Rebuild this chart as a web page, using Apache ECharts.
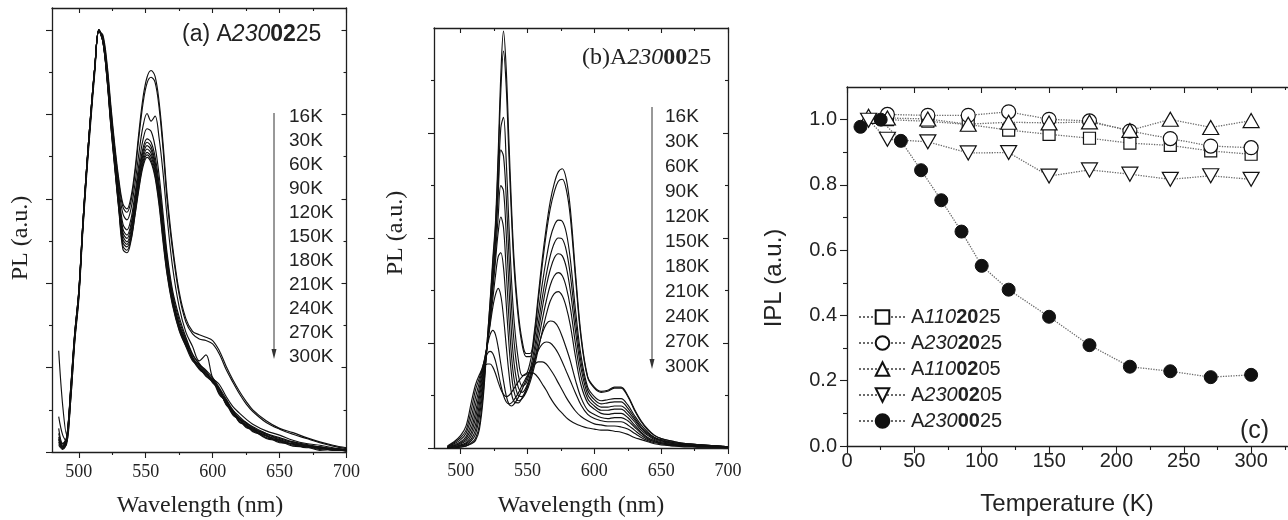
<!DOCTYPE html>
<html>
<head>
<meta charset="utf-8">
<title>PL spectra and integrated PL</title>
<script src="https://cdn.jsdelivr.net/npm/echarts@6/dist/echarts.min.js"></script>
<style>
  html, body { margin: 0; padding: 0; background: #fff; }
  #main { width: 1288px; height: 520px; }
</style>
</head>
<body>
<div id="main"></div>
<script>
// temperatures, top to bottom in panels (a) and (b)
var temps = ['16K', '30K', '60K', '90K', '120K', '150K', '180K', '210K', '240K', '270K', '300K'];

// ---- panel (a) A2300225, PL (a.u.), first peak ~5
var wlA = [485, 488, 491, 494, 497, 500, 503, 506, 509, 512, 515, 518, 521, 524, 527, 530, 533, 536, 539, 542, 545, 548, 551, 554, 557, 560, 563, 566, 570, 575, 580, 585, 590, 595, 600, 605, 610, 615, 620, 625, 630, 640, 650, 660, 670, 680, 690, 700];
var a16 = [0.12, 0.04, 0.1, 0.62, 1.3, 1.8, 2.6, 3.3, 3.92, 4.5, 4.98, 4.94, 4.62, 4.1, 3.62, 3.22, 2.94, 2.88, 3.02, 3.35, 3.8, 4.2, 4.44, 4.52, 4.45, 4.15, 3.65, 3.05, 2.45, 1.9, 1.58, 1.43, 1.39, 1.36, 1.32, 1.2, 1.02, 0.86, 0.72, 0.6, 0.5, 0.37, 0.28, 0.23, 0.17, 0.12, 0.08, 0.05];
var a30 = [0.08, 0.03, 0.12, 0.66, 1.34, 1.84, 2.64, 3.34, 3.96, 4.53, 4.99, 4.92, 4.58, 4.06, 3.58, 3.18, 2.9, 2.84, 2.97, 3.3, 3.74, 4.13, 4.37, 4.44, 4.38, 4.08, 3.58, 2.98, 2.4, 1.86, 1.54, 1.4, 1.34, 1.32, 1.28, 1.16, 0.98, 0.83, 0.69, 0.57, 0.48, 0.35, 0.27, 0.21, 0.16, 0.11, 0.07, 0.04];
var a60 = [0.1, 0.05, 0.14, 0.7, 1.36, 1.86, 2.66, 3.36, 3.98, 4.55, 4.99, 4.9, 4.55, 4.02, 3.55, 3.12, 2.82, 2.75, 2.88, 3.18, 3.55, 3.86, 4.01, 3.92, 3.98, 3.72, 3.3, 2.78, 2.2, 1.72, 1.42, 1.25, 1.08, 1.15, 0.88, 0.8, 0.66, 0.54, 0.46, 0.39, 0.33, 0.25, 0.2, 0.14, 0.1, 0.08, 0.05, 0.03];
var a90 = [0.14, 0.06, 0.15, 0.72, 1.38, 1.88, 2.68, 3.38, 4.0, 4.56, 5.0, 4.89, 4.52, 3.98, 3.5, 3.05, 2.7, 2.63, 2.76, 3.06, 3.42, 3.7, 3.83, 3.8, 3.62, 3.28, 2.82, 2.35, 1.92, 1.6, 1.36, 1.16, 1.04, 0.97, 0.88, 0.76, 0.63, 0.5, 0.42, 0.35, 0.3, 0.22, 0.17, 0.12, 0.09, 0.06, 0.04, 0.03];
var a120 = [0.16, 0.06, 0.16, 0.73, 1.38, 1.88, 2.68, 3.38, 4.0, 4.56, 5.0, 4.88, 4.5, 3.96, 3.47, 3.0, 2.64, 2.57, 2.7, 3.0, 3.34, 3.6, 3.71, 3.67, 3.5, 3.18, 2.74, 2.3, 1.88, 1.56, 1.34, 1.15, 1.05, 0.94, 0.86, 0.74, 0.61, 0.48, 0.4, 0.34, 0.29, 0.21, 0.16, 0.11, 0.08, 0.06, 0.04, 0.02];
var a150 = [0.18, 0.07, 0.16, 0.74, 1.4, 1.9, 2.7, 3.4, 4.02, 4.57, 5.0, 4.88, 4.48, 3.94, 3.45, 2.97, 2.6, 2.53, 2.66, 2.96, 3.3, 3.56, 3.67, 3.62, 3.44, 3.12, 2.68, 2.25, 1.85, 1.52, 1.32, 1.12, 1.03, 0.96, 0.84, 0.75, 0.58, 0.5, 0.38, 0.35, 0.27, 0.22, 0.14, 0.12, 0.07, 0.06, 0.03, 0.03];
var a180 = [0.22, 0.08, 0.17, 0.75, 1.4, 1.9, 2.7, 3.4, 4.02, 4.57, 5.0, 4.87, 4.47, 3.92, 3.42, 2.94, 2.56, 2.49, 2.62, 2.92, 3.26, 3.52, 3.63, 3.58, 3.4, 3.08, 2.64, 2.22, 1.82, 1.5, 1.3, 1.1, 0.98, 0.92, 0.86, 0.7, 0.62, 0.46, 0.4, 0.31, 0.28, 0.19, 0.15, 0.09, 0.08, 0.04, 0.04, 0.02];
var a210 = [0.28, 0.1, 0.18, 0.76, 1.41, 1.9, 2.7, 3.4, 4.02, 4.57, 5.0, 4.87, 4.46, 3.9, 3.4, 2.91, 2.52, 2.46, 2.58, 2.88, 3.22, 3.48, 3.59, 3.54, 3.36, 3.03, 2.6, 2.18, 1.8, 1.49, 1.28, 1.12, 1.0, 0.9, 0.83, 0.73, 0.57, 0.49, 0.36, 0.33, 0.25, 0.2, 0.12, 0.1, 0.06, 0.05, 0.02, 0.03];
var a240 = [0.15, 0.1, 0.18, 0.77, 1.42, 1.9, 2.7, 3.4, 4.02, 4.57, 5.0, 4.86, 4.45, 3.88, 3.38, 2.89, 2.48, 2.43, 2.55, 2.85, 3.18, 3.44, 3.55, 3.5, 3.32, 3.0, 2.56, 2.15, 1.78, 1.47, 1.28, 1.1, 1.03, 0.92, 0.85, 0.68, 0.6, 0.45, 0.39, 0.3, 0.27, 0.17, 0.14, 0.08, 0.07, 0.03, 0.04, 0.01];
var a270 = [0.42, 0.2, 0.12, 0.68, 1.36, 1.86, 2.66, 3.38, 4.0, 4.56, 4.99, 4.86, 4.44, 3.86, 3.36, 2.87, 2.44, 2.39, 2.52, 2.82, 3.15, 3.41, 3.52, 3.46, 3.28, 2.96, 2.52, 2.12, 1.76, 1.45, 1.26, 1.12, 0.99, 0.94, 0.82, 0.74, 0.56, 0.48, 0.35, 0.32, 0.24, 0.19, 0.11, 0.1, 0.05, 0.05, 0.02, 0.02];
var a300 = [1.2, 0.55, 0.2, 0.62, 1.32, 1.84, 2.64, 3.36, 3.98, 4.55, 4.99, 4.86, 4.43, 3.85, 3.34, 2.85, 2.4, 2.36, 2.5, 2.8, 3.12, 3.38, 3.49, 3.43, 3.25, 2.92, 2.48, 2.1, 1.74, 1.44, 1.25, 1.08, 1.01, 0.9, 0.86, 0.7, 0.58, 0.44, 0.38, 0.29, 0.26, 0.16, 0.13, 0.07, 0.06, 0.02, 0.03, 0.01];
var spectraA = [a16, a30, a60, a90, a120, a150, a180, a210, a240, a270, a300];

// ---- panel (b) A2300025, PL (a.u.)
var wlB = [490, 495, 500, 504, 508, 511, 514, 517, 520, 522, 524, 526, 528, 530, 532, 534, 536, 538, 540, 543, 546, 549, 552, 555, 558, 561, 564, 567, 570, 573, 576, 579, 582, 586, 590, 595, 600, 605, 610, 615, 620, 625, 630, 635, 640, 645, 650, 660, 670, 680, 690, 700];
var b16 = [0, 0, 0.01, 0.02, 0.04, 0.07, 0.18, 0.5, 1.05, 1.4, 1.8, 2.15, 2.8, 3.55, 3.97, 3.62, 2.95, 2.3, 1.78, 1.3, 1.02, 0.9, 0.9, 1.1, 1.45, 1.8, 2.1, 2.35, 2.52, 2.63, 2.66, 2.56, 2.28, 1.65, 1.08, 0.68, 0.58, 0.54, 0.55, 0.58, 0.58, 0.5, 0.37, 0.26, 0.18, 0.12, 0.09, 0.06, 0.04, 0.03, 0.02, 0.01];
var b30 = [0, 0, 0.01, 0.02, 0.05, 0.09, 0.22, 0.55, 1.05, 1.38, 1.75, 2.1, 2.7, 3.4, 3.78, 3.45, 2.8, 2.2, 1.7, 1.25, 0.98, 0.87, 0.87, 1.06, 1.4, 1.74, 2.04, 2.28, 2.44, 2.54, 2.56, 2.46, 2.2, 1.6, 1.05, 0.67, 0.57, 0.53, 0.54, 0.57, 0.57, 0.49, 0.36, 0.25, 0.17, 0.12, 0.09, 0.06, 0.04, 0.03, 0.02, 0.01];
var b60 = [0, 0.01, 0.02, 0.03, 0.07, 0.13, 0.3, 0.6, 1.0, 1.3, 1.65, 2.0, 2.5, 3.05, 3.15, 2.75, 2.15, 1.6, 1.2, 0.85, 0.69, 0.7, 0.82, 1.02, 1.28, 1.56, 1.8, 2.0, 2.12, 2.17, 2.16, 2.05, 1.8, 1.3, 0.88, 0.58, 0.49, 0.45, 0.46, 0.47, 0.47, 0.41, 0.31, 0.22, 0.15, 0.1, 0.08, 0.05, 0.04, 0.03, 0.02, 0.01];
var b90 = [0, 0.01, 0.02, 0.04, 0.09, 0.17, 0.36, 0.64, 1.0, 1.28, 1.6, 1.95, 2.4, 2.84, 2.78, 2.4, 1.85, 1.35, 1.0, 0.7, 0.59, 0.62, 0.75, 0.94, 1.18, 1.43, 1.65, 1.83, 1.95, 2.0, 1.99, 1.88, 1.65, 1.2, 0.82, 0.55, 0.46, 0.42, 0.43, 0.44, 0.44, 0.38, 0.29, 0.2, 0.14, 0.1, 0.07, 0.05, 0.03, 0.02, 0.02, 0.01];
var b120 = [0, 0.01, 0.03, 0.05, 0.12, 0.22, 0.42, 0.68, 1.0, 1.25, 1.55, 1.85, 2.2, 2.5, 2.45, 2.05, 1.55, 1.1, 0.8, 0.58, 0.53, 0.58, 0.7, 0.88, 1.1, 1.33, 1.54, 1.7, 1.81, 1.85, 1.83, 1.72, 1.5, 1.1, 0.76, 0.51, 0.43, 0.39, 0.39, 0.4, 0.4, 0.35, 0.27, 0.19, 0.13, 0.09, 0.07, 0.04, 0.03, 0.02, 0.02, 0.01];
var b150 = [0, 0.02, 0.04, 0.07, 0.15, 0.28, 0.48, 0.72, 1.0, 1.22, 1.5, 1.78, 2.05, 2.2, 2.1, 1.7, 1.25, 0.88, 0.65, 0.5, 0.49, 0.55, 0.66, 0.82, 1.02, 1.22, 1.4, 1.55, 1.64, 1.67, 1.64, 1.53, 1.34, 0.98, 0.68, 0.47, 0.4, 0.36, 0.36, 0.37, 0.37, 0.32, 0.25, 0.17, 0.12, 0.08, 0.06, 0.04, 0.03, 0.02, 0.01, 0.01];
var b180 = [0, 0.02, 0.05, 0.09, 0.19, 0.34, 0.53, 0.75, 1.0, 1.2, 1.42, 1.64, 1.82, 1.86, 1.72, 1.38, 1.0, 0.7, 0.53, 0.45, 0.47, 0.53, 0.63, 0.77, 0.94, 1.11, 1.27, 1.4, 1.47, 1.49, 1.45, 1.34, 1.17, 0.86, 0.6, 0.43, 0.37, 0.33, 0.32, 0.33, 0.33, 0.29, 0.22, 0.15, 0.1, 0.07, 0.05, 0.03, 0.02, 0.02, 0.01, 0.01];
var b210 = [0.01, 0.03, 0.06, 0.11, 0.24, 0.41, 0.58, 0.78, 1.0, 1.17, 1.34, 1.46, 1.52, 1.45, 1.25, 0.98, 0.72, 0.52, 0.44, 0.43, 0.48, 0.56, 0.67, 0.81, 0.96, 1.09, 1.18, 1.21, 1.2, 1.15, 1.06, 0.95, 0.83, 0.64, 0.48, 0.36, 0.32, 0.29, 0.28, 0.29, 0.29, 0.26, 0.2, 0.14, 0.09, 0.06, 0.05, 0.03, 0.02, 0.01, 0.01, 0.01];
var b240 = [0.01, 0.04, 0.08, 0.14, 0.3, 0.48, 0.63, 0.8, 0.98, 1.08, 1.12, 1.08, 0.96, 0.8, 0.64, 0.5, 0.42, 0.4, 0.42, 0.48, 0.56, 0.65, 0.74, 0.84, 0.93, 0.99, 1.01, 1.0, 0.96, 0.9, 0.82, 0.73, 0.64, 0.52, 0.41, 0.32, 0.28, 0.26, 0.25, 0.25, 0.25, 0.22, 0.17, 0.12, 0.08, 0.06, 0.04, 0.03, 0.02, 0.01, 0.01, 0.01];
var b270 = [0.01, 0.05, 0.1, 0.17, 0.37, 0.55, 0.67, 0.8, 0.9, 0.92, 0.9, 0.83, 0.72, 0.6, 0.5, 0.44, 0.42, 0.43, 0.46, 0.52, 0.6, 0.67, 0.74, 0.79, 0.82, 0.82, 0.8, 0.75, 0.69, 0.62, 0.55, 0.48, 0.42, 0.35, 0.3, 0.26, 0.23, 0.22, 0.21, 0.21, 0.2, 0.18, 0.14, 0.1, 0.07, 0.05, 0.04, 0.02, 0.02, 0.01, 0.01, 0.01];
var b300 = [0.02, 0.06, 0.12, 0.21, 0.44, 0.6, 0.7, 0.77, 0.8, 0.8, 0.77, 0.71, 0.63, 0.56, 0.51, 0.49, 0.5, 0.53, 0.57, 0.63, 0.68, 0.71, 0.72, 0.71, 0.67, 0.61, 0.55, 0.48, 0.42, 0.37, 0.33, 0.29, 0.26, 0.23, 0.21, 0.19, 0.18, 0.17, 0.17, 0.16, 0.15, 0.13, 0.1, 0.08, 0.06, 0.04, 0.03, 0.02, 0.01, 0.01, 0.01, 0];
var spectraB = [b16, b30, b60, b90, b120, b150, b180, b210, b240, b270, b300];

// ---- panel (c) integrated PL vs temperature
var tHollow = [30, 60, 90, 120, 150, 180, 210, 240, 270, 300];
var tTri = [16, 30, 60, 90, 120, 150, 180, 210, 240, 270, 300];
var tFilled = [10, 25, 40, 55, 70, 85, 100, 120, 150, 180, 210, 240, 270, 300];
var ipl1102025 = [1.0, 0.995, 0.985, 0.968, 0.955, 0.943, 0.928, 0.921, 0.904, 0.894];
var ipl2302025 = [1.016, 1.013, 1.013, 1.024, 1.001, 0.996, 0.965, 0.942, 0.919, 0.914];
var ipl1100205 = [1.01, 1.005, 1.002, 0.986, 0.992, 0.99, 0.993, 0.967, 1.001, 0.976, 0.997];
var ipl2300205 = [0.998, 0.94, 0.932, 0.898, 0.899, 0.827, 0.846, 0.833, 0.817, 0.828, 0.817];
var ipl2300025 = [0.978, 1.0, 0.935, 0.845, 0.753, 0.657, 0.552, 0.479, 0.396, 0.309, 0.243, 0.229, 0.211, 0.218];
// sample names split as plain / italic / bold / plain
var sampleParts = [['A', '110', '20', '25'], ['A', '230', '20', '25'], ['A', '110', '02', '05'], ['A', '230', '02', '05'], ['A', '230', '00', '25']];

var SERIF = '"Liberation Serif", "DejaVu Serif", serif';
var SANS = '"Liberation Sans", Arial, sans-serif';
var INK = '#1e1e1e';

var chart = echarts.init(document.getElementById('main'), null, { renderer: 'canvas' });

var xAxes = [], yAxes = [];
function axis(grid, pos, min, max, vals, len, inside, showLine, label) {
    var ax = {
        type: 'value', gridIndex: grid, position: pos, min: min, max: max,
        axisLine: { show: showLine, onZero: false, lineStyle: { color: INK, width: 1.3 } },
        axisTick: { show: true, inside: inside, length: len, customValues: vals, lineStyle: { color: INK, width: 1.1 } },
        axisLabel: { show: false },
        splitLine: { show: false },
        axisPointer: { show: false }
    };
    if (label) {
        ax.axisLabel = Object.assign({ show: true, customValues: vals }, label);
    }
    return ax;
}
function addX(a) { xAxes.push(a); return xAxes.length - 1; }
function addY(a) { yAxes.push(a); return yAxes.length - 1; }

var wlMajor = [500, 550, 600, 650, 700];
var wlMinor = [525, 575, 625, 675];
var serifLabel = { fontFamily: SERIF, fontSize: 18, color: '#222' };

// panel (a) axes
var xa = addX(axis(0, 'bottom', 480, 700, wlMajor, 6, false, true, Object.assign({ margin: 11 }, serifLabel)));
addX(axis(0, 'bottom', 480, 700, wlMinor, 3, false, false));
addX(axis(0, 'top', 480, 700, wlMajor, 5, true, true));
addX(axis(0, 'top', 480, 700, wlMinor, 3, true, false));
var ya = addY(axis(0, 'left', 0, 5.26, [0, 1, 2, 3, 4, 5], 6, false, true));
addY(axis(0, 'left', 0, 5.26, [0.5, 1.5, 2.5, 3.5, 4.5], 3, false, false));
addY(axis(0, 'right', 0, 5.26, [0, 1, 2, 3, 4, 5], 5, true, true));
addY(axis(0, 'right', 0, 5.26, [0.5, 1.5, 2.5, 3.5, 4.5], 3, true, false));

// panel (b) axes
var xb = addX(axis(1, 'bottom', 480, 700, wlMajor, 6, false, true, Object.assign({ margin: 14 }, serifLabel)));
addX(axis(1, 'bottom', 480, 700, wlMinor, 3, false, false));
addX(axis(1, 'top', 480, 700, wlMajor, 5, true, true));
addX(axis(1, 'top', 480, 700, wlMinor, 3, true, false));
var yb = addY(axis(1, 'left', 0, 4, [0, 1, 2, 3], 6, false, true));
addY(axis(1, 'left', 0, 4, [0.5, 1.5, 2.5, 3.5], 3, false, false));
addY(axis(1, 'right', 0, 4, [0, 1, 2, 3], 5, true, true));
addY(axis(1, 'right', 0, 4, [0.5, 1.5, 2.5, 3.5], 3, true, false));

// panel (c) axes: the frame is cut by the right edge of the picture at ~327 K
var xc = addX(axis(2, 'bottom', 0, 327, [0, 50, 100, 150, 200, 250, 300], 7, false, true,
    { fontFamily: SANS, fontSize: 20, color: '#222', margin: 5 }));
addX(axis(2, 'bottom', 0, 327, [25, 75, 125, 175, 225, 275, 325], 4, false, false));
addX(axis(2, 'top', 0, 327, [0, 50, 100, 150, 200, 250, 300], 6, true, true));
addX(axis(2, 'top', 0, 327, [25, 75, 125, 175, 225, 275, 325], 3, true, false));
var yc = addY(axis(2, 'left', 0, 1.1, [0, 0.2, 0.4, 0.6, 0.8, 1.0], 7, false, true,
    { fontFamily: SANS, fontSize: 20, color: '#222', margin: 10, formatter: function (v) { return v.toFixed(1); } }));
addY(axis(2, 'left', 0, 1.1, [0.1, 0.3, 0.5, 0.7, 0.9], 4, false, false));

var series = [];
spectraA.forEach(function (vals, k) {
    series.push({
        name: 'a-' + temps[k], type: 'line', xAxisIndex: xa, yAxisIndex: ya,
        data: vals.map(function (v, i) { return [wlA[i], v]; }),
        showSymbol: false, smooth: 0.35, silent: true,
        lineStyle: { color: '#111', width: 1.15 }
    });
});
spectraB.forEach(function (vals, k) {
    series.push({
        name: 'b-' + temps[k], type: 'line', xAxisIndex: xb, yAxisIndex: yb,
        data: vals.map(function (v, i) { return [wlB[i], v]; }),
        showSymbol: false, smooth: 0.35, silent: true,
        lineStyle: { color: '#111', width: 1.15 }
    });
});

function pairs(xs, ys) { return ys.map(function (v, i) { return [xs[i], v]; }); }
var sampleNames = sampleParts.map(function (p) { return p.join(''); });
var dotted = { type: 'dotted', color: '#6a6a6a', width: 1.3 };
var hollow = { color: '#fff', borderColor: '#111', borderWidth: 1.2 };
var iplSets = [
    { x: tHollow, y: ipl1102025, symbol: 'rect', size: 12, rot: 0, item: hollow },
    { x: tHollow, y: ipl2302025, symbol: 'circle', size: 14, rot: 0, item: hollow },
    { x: tTri, y: ipl1100205, symbol: 'triangle', size: [16, 14], rot: 0, item: hollow },
    { x: tTri, y: ipl2300205, symbol: 'triangle', size: [16, 14], rot: 180, item: hollow },
    { x: tFilled, y: ipl2300025, symbol: 'circle', size: 13, rot: 0, item: { color: '#111', borderColor: '#111', borderWidth: 1 } }
];
iplSets.forEach(function (s, k) {
    series.push({
        name: sampleNames[k], type: 'line', xAxisIndex: xc, yAxisIndex: yc,
        data: pairs(s.x, s.y), symbol: s.symbol, symbolSize: s.size, symbolRotate: s.rot,
        showSymbol: true, silent: true, lineStyle: dotted, itemStyle: s.item
    });
});

var legendRich = {
    n: { fontFamily: SANS, fontSize: 20, color: '#222' },
    i: { fontFamily: SANS, fontSize: 20, color: '#222', fontStyle: 'italic' },
    b: { fontFamily: SANS, fontSize: 20, color: '#222', fontWeight: 'bold' }
};

function richName(p) { return '{n|' + p[0] + '}{i|' + p[1] + '}{b|' + p[2] + '}{n|' + p[3] + '}'; }

var option = {
    animation: false,
    backgroundColor: '#fff',
    grid: [
        { left: 52, top: 8, width: 294.5, height: 444 },
        { left: 434, top: 28, width: 294, height: 420 },
        { left: 847, top: 87, width: 440.5, height: 359 }
    ],
    xAxis: xAxes,
    yAxis: yAxes,
    legend: {
        data: sampleNames, orient: 'vertical', left: 858, top: 307, padding: 0,
        itemWidth: 47, itemHeight: 17, itemGap: 6, selectedMode: false,
        formatter: function (name) { return richName(sampleParts[sampleNames.indexOf(name)]); },
        textStyle: { fontFamily: SANS, fontSize: 20, color: '#222', rich: legendRich }
    },
    series: series,
    graphic: [
        // panel (a) texts
        { type: 'text', x: 182, y: 35, style: { text: '{n|(a) A}{i|230}{b|02}{n|25}', textVerticalAlign: 'middle',
            rich: {
                n: { fontFamily: SANS, fontSize: 23, fill: '#222' },
                i: { fontFamily: SANS, fontSize: 23, fontStyle: 'italic', fill: '#222' },
                b: { fontFamily: SANS, fontSize: 23, fontWeight: 'bold', fill: '#222' }
            } } },
        { type: 'text', x: 289, y: 105, style: { text: temps.join('\n'), font: '19px ' + SANS, lineHeight: 24, fill: '#222', textVerticalAlign: 'top' } },
        { type: 'line', shape: { x1: 274, y1: 113, x2: 274, y2: 352 }, style: { stroke: '#333', lineWidth: 1 } },
        { type: 'polygon', shape: { points: [[271.5, 349], [276.5, 349], [274, 359]] }, style: { fill: '#333' } },
        { type: 'text', x: 21, y: 238, rotation: Math.PI / 2, style: { text: 'PL (a.u.)', font: '24px ' + SERIF, fill: '#222', textAlign: 'center', textVerticalAlign: 'middle' } },
        { type: 'text', x: 200, y: 506, style: { text: 'Wavelength (nm)', font: '24px ' + SERIF, fill: '#222', textAlign: 'center', textVerticalAlign: 'middle' } },
        // panel (b) texts
        { type: 'text', x: 582, y: 58, style: { text: '{n|(b)A}{i|230}{b|00}{n|25}', textVerticalAlign: 'middle',
            rich: {
                n: { fontFamily: SERIF, fontSize: 24, fill: '#222' },
                i: { fontFamily: SERIF, fontSize: 24, fontStyle: 'italic', fill: '#222' },
                b: { fontFamily: SERIF, fontSize: 24, fontWeight: 'bold', fill: '#222' }
            } } },
        { type: 'text', x: 665, y: 104.5, style: { text: temps.join('\n'), font: '19px ' + SANS, lineHeight: 25, fill: '#222', textVerticalAlign: 'top' } },
        { type: 'line', shape: { x1: 652, y1: 107, x2: 652, y2: 362 }, style: { stroke: '#333', lineWidth: 1 } },
        { type: 'polygon', shape: { points: [[649.5, 359], [654.5, 359], [652, 369]] }, style: { fill: '#333' } },
        { type: 'text', x: 396, y: 233, rotation: Math.PI / 2, style: { text: 'PL (a.u.)', font: '24px ' + SERIF, fill: '#222', textAlign: 'center', textVerticalAlign: 'middle' } },
        { type: 'text', x: 581, y: 506, style: { text: 'Wavelength (nm)', font: '24px ' + SERIF, fill: '#222', textAlign: 'center', textVerticalAlign: 'middle' } },
        // panel (c) texts
        { type: 'text', x: 774, y: 278, rotation: Math.PI / 2, style: { text: 'IPL (a.u.)', font: '24px ' + SANS, fill: '#222', textAlign: 'center', textVerticalAlign: 'middle' } },
        { type: 'text', x: 1067, y: 504, style: { text: 'Temperature (K)', font: '24px ' + SANS, fill: '#222', textAlign: 'center', textVerticalAlign: 'middle' } },
        { type: 'text', x: 1240, y: 431, style: { text: '(c)', font: '25px ' + SANS, fill: '#222', textVerticalAlign: 'middle' } }
    ]
};

chart.setOption(option);
window.onresize = chart.resize;
</script>
</body>
</html>
